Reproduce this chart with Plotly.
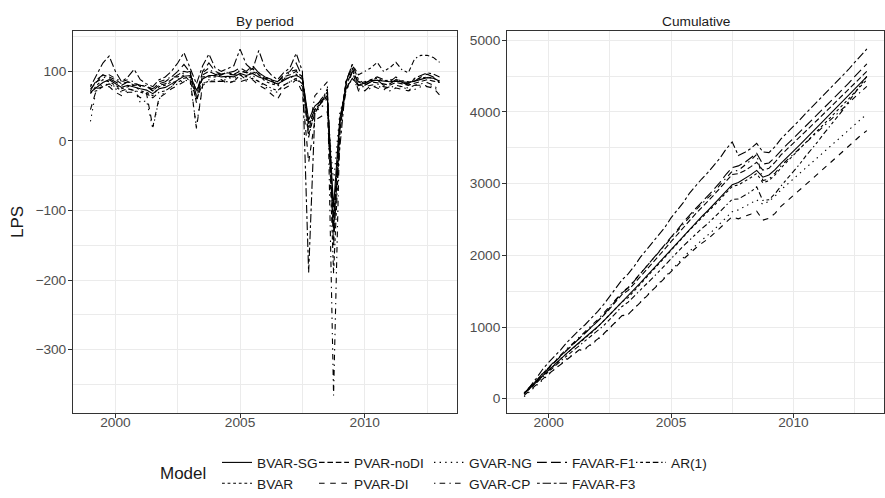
import pandas as pd
import plotly.graph_objects as go

# ---------------- data ----------------
quarters = pd.period_range("1999Q1", "2013Q1", freq="Q")
x_years = [q.year + (q.quarter - 1) / 4 for q in quarters]

models = ["BVAR-SG", "BVAR", "PVAR-noDI", "PVAR-DI", "GVAR-NG",
          "GVAR-CP", "FAVAR-F1", "FAVAR-F3", "AR(1)"]

bvar_sg = [70, 77, 84, 88, 82, 77, 80, 77, 75, 73,
           68, 75, 77, 82, 87, 93, 94, 73, 89, 94,
           94, 92, 93, 92, 97, 94, 97, 92, 89, 85,
           82, 87, 92, 94, 90,
           30, 50, 58, 62, -95,
           32, 75, 90, 80, 83, 87, 87, 86, 85, 86, 85, 84, 86, 89, 91, 90, 86]
bvar = [68, 80, 88, 85, 80, 75, 78, 80, 72, 70,
        65, 78, 80, 85, 84, 90, 92, 62, 92, 92,
        92, 95, 90, 95, 95, 92, 100, 95, 86, 82,
        80, 90, 90, 96, 88,
        20, 45, 55, 60, -130,
        30, 80, 100, 85, 85, 88, 90, 86, 88, 88, 86, 85, 88, 90, 92, 90, 87]
pvar_nodi = [75, 85, 95, 92, 88, 82, 85, 80, 80, 78,
             72, 80, 82, 88, 95, 100, 98, 55, 95, 100,
             96, 95, 98, 96, 100, 98, 104, 95, 90, 88,
             85, 92, 95, 100, 92,
             10, 40, 55, 65, -110,
             25, 85, 105, 80, 80, 85, 84, 82, 80, 84, 82, 80, 83, 85, 88, 86, 84]
pvar_di = [45, 75, 78, 78, 70, 65, 70, 70, 62, 68,
           20, 62, 68, 75, 80, 85, 88, 18, 80, 85,
           85, 88, 82, 86, 85, 88, 88, 80, 75, 68,
           60, 75, 80, 88, 70,
           -31, 30, 35, 42, -125,
           25, 70, 100, 72, 72, 80, 76, 74, 78, 76, 74, 72, 80, 80, 78, 76, 66]
gvar_ng = [28, 78, 80, 82, 75, 70, 72, 75, 55, 58,
           18, 60, 72, 78, 82, 88, 85, 20, 82, 88,
           88, 85, 90, 91, 90, 86, 95, 85, 78, 72,
           70, 80, 85, 90, 78,
           25, 40, 50, 50, -60,
           40, 72, 90, 75, 72, 76, 80, 74, 72, 76, 79, 72, 74, 78, 80, 78, 70]
gvar_cp = [80, 85, 90, 95, 90, 85, 88, 85, 78, 80,
           72, 85, 88, 92, 92, 98, 100, 70, 98, 105,
           95, 98, 96, 95, 102, 98, 98, 98, 92, 88,
           78, 88, 100, 102, 90,
           10, 65, 75, 85, -366,
           20, 85, 105, 78, 78, 80, 82, 78, 76, 80, 78, 76, 80, 82, 84, 80, 73]
favar_f1 = [72, 88, 95, 90, 85, 80, 85, 82, 80, 78,
            75, 82, 85, 92, 100, 110, 98, 65, 100, 112,
            100, 96, 98, 100, 105, 100, 108, 98, 92, 88,
            85, 95, 100, 112, 92,
            25, 45, 60, 70, -150,
            15, 80, 100, 85, 80, 85, 88, 80, 82, 88, 84, 80, 86, 92, 96, 92, 84]
favar_f3 = [78, 95, 112, 122, 100, 85, 92, 103, 88, 82,
            78, 88, 92, 100, 112, 127, 105, 82, 108, 125,
            105, 100, 104, 108, 132, 110, 102, 130, 105, 95,
            88, 98, 105, 126, 100,
            -189, 40, 55, 75, -120,
            -10, 85, 110, 88, 82, 88, 92, 88, 85, 92, 84, 82, 90, 94, 98, 96, 92]
ar1 = [70, 72, 78, 82, 78, 72, 75, 72, 70, 68,
       62, 70, 72, 78, 88, 95, 85, 60, 82, 86,
       86, 85, 86, 85, 95, 88, 90, 85, 80, 76,
       72, 80, 85, 90, 82,
       5, 45, 55, 70, -190,
       10, 85, 110, 95, 100, 105, 113, 100, 105, 113, 102, 98, 118, 123, 123, 120, 113]

x_tick_vals = [2000, 2005, 2010]
x_tick_text = ["2000", "2005", "2010"]
y1_tick_vals = [-300, -200, -100, 0, 100]
y1_tick_text = ["\u2212300", "\u2212200", "\u2212100", "0", "100"]
y2_tick_vals = [0, 1000, 2000, 3000, 4000, 5000]
y2_tick_text = ["0", "1000", "2000", "3000", "4000", "5000"]
panel_titles = ["By period", "Cumulative"]

series = dict(zip(models, [bvar_sg, bvar, pvar_nodi, pvar_di, gvar_ng,
                           gvar_cp, favar_f1, favar_f3, ar1]))

# ---------------- styles ----------------
u = 1.4
def dp(*segs):
    return ",".join(f"{s * u:.1f}px" for s in segs)

dashes = {
    "BVAR-SG": "solid",
    "BVAR": dp(2, 2),
    "PVAR-noDI": dp(4, 2),
    "PVAR-DI": dp(4, 4),
    "GVAR-NG": dp(1, 3),
    "GVAR-CP": dp(1, 3, 4, 3),
    "FAVAR-F1": dp(7, 3),
    "FAVAR-F3": dp(2, 2, 6, 2),
    "AR(1)": dp(1, 2, 2, 2, 3, 2, 4, 2),
}
legend_of = {
    "BVAR-SG": "legend", "BVAR": "legend",
    "PVAR-noDI": "legend2", "PVAR-DI": "legend2",
    "GVAR-NG": "legend3", "GVAR-CP": "legend3",
    "FAVAR-F1": "legend4", "FAVAR-F3": "legend4",
    "AR(1)": "legend5",
}

fig = go.Figure()
for m in models:
    vals = series[m]
    cum = pd.Series(vals).cumsum().tolist()
    line = dict(color="black", width=1.1, dash=dashes[m])
    fig.add_trace(go.Scatter(x=x_years, y=vals, mode="lines", name=m,
                             line=line, legendgroup=m, legend=legend_of[m],
                             xaxis="x", yaxis="y"))
    fig.add_trace(go.Scatter(x=x_years, y=cum, mode="lines", name=m,
                             line=line, legendgroup=m, showlegend=False,
                             xaxis="x2", yaxis="y2"))

W, H = 885, 498
ml, mr, mt, mb = 73, 1, 31, 85
pw = W - ml - mr
ph = H - mt - mb

def px_x(p):
    return (p - ml) / pw

def px_y(p):
    return (H - mb - p) / ph

grid = "#EBEBEB"
border = "#333333"
tickfont = dict(family="Liberation Sans, Arial, sans-serif", size=13.7, color="#4D4D4D")

def axis_common(standoff):
    return dict(showline=True, mirror=True, linecolor=border, linewidth=1,
                ticks="outside", ticklen=4, tickcolor=border, tickwidth=1,
                showgrid=True, gridcolor=grid, gridwidth=1.1, zeroline=False,
                tickfont=tickfont, fixedrange=True, automargin=False,
                ticklabelstandoff=standoff)

xr = [1998.3, 2013.7]
fig.update_layout(
    width=W, height=H,
    margin=dict(l=ml, r=mr, t=mt, b=mb, autoexpand=False),
    paper_bgcolor="white", plot_bgcolor="white",
    font=dict(family="Liberation Sans, Arial, sans-serif", color="#1A1A1A"),
    xaxis=dict(domain=[0, px_x(457)], range=xr, anchor="y",
               tickmode="array", tickvals=x_tick_vals, ticktext=x_tick_text,
               minor=dict(tickvals=[2002.5, 2007.5, 2012.5], showgrid=True,
                          gridcolor=grid, gridwidth=0.55, ticks=""),
               **axis_common(-7)),
    xaxis2=dict(domain=[px_x(507), 1], range=xr, anchor="y2",
                tickmode="array", tickvals=x_tick_vals, ticktext=x_tick_text,
                minor=dict(tickvals=[2002.5, 2007.5, 2012.5], showgrid=True,
                           gridcolor=grid, gridwidth=0.55, ticks=""),
                **axis_common(-7)),
    yaxis=dict(domain=[0, 1], range=[-391, 158], anchor="x",
               tickmode="array", tickvals=y1_tick_vals, ticktext=y1_tick_text,
               minor=dict(tickvals=[-350, -250, -150, -50, 50, 150], showgrid=True,
                          gridcolor=grid, gridwidth=0.55, ticks=""),
               **axis_common(-1)),
    yaxis2=dict(domain=[0, 1], range=[-200, 5130], anchor="x2",
                tickmode="array", tickvals=y2_tick_vals, ticktext=y2_tick_text,
                minor=dict(tickvals=[500, 1500, 2500, 3500, 4500], showgrid=True,
                           gridcolor=grid, gridwidth=0.55, ticks=""),
                **axis_common(-1)),
    showlegend=True,
)

legfont = dict(family="Liberation Sans, Arial, sans-serif", size=13.7, color="#1A1A1A")
leg_y = px_y(447)
leg_x_px = {"legend": 217, "legend2": 314, "legend3": 429, "legend4": 532, "legend5": 631}
for key, xp in leg_x_px.items():
    fig.update_layout({key: dict(x=px_x(xp), y=leg_y, xanchor="left", yanchor="top",
                                 orientation="v", bgcolor="rgba(0,0,0,0)",
                                 borderwidth=0, font=legfont, tracegroupgap=0,
                                 itemclick=False, itemdoubleclick=False)})

annotations = [
    dict(text=panel_titles[0], x=px_x((73 + 457) / 2), y=px_y(22), xref="paper", yref="paper",
         showarrow=False, xanchor="center", yanchor="middle",
         font=dict(size=13.7, color="#1A1A1A")),
    dict(text=panel_titles[1], x=px_x((507 + 884) / 2), y=px_y(22), xref="paper", yref="paper",
         showarrow=False, xanchor="center", yanchor="middle",
         font=dict(size=13.7, color="#1A1A1A")),
    dict(text="LPS", x=px_x(17), y=0.5, xref="paper", yref="paper", textangle=-90,
         showarrow=False, xanchor="center", yanchor="middle",
         font=dict(size=17, color="#1A1A1A")),
    dict(text="Model", x=px_x(158), y=px_y(474), xref="paper", yref="paper",
         showarrow=False, xanchor="left", yanchor="middle",
         font=dict(size=17, color="#1A1A1A")),
]
fig.update_layout(annotations=annotations)

fig.write_html("out.html",
               config={"displayModeBar": False},
               post_script="document.body.style.margin='0';document.body.style.overflow='hidden';")
